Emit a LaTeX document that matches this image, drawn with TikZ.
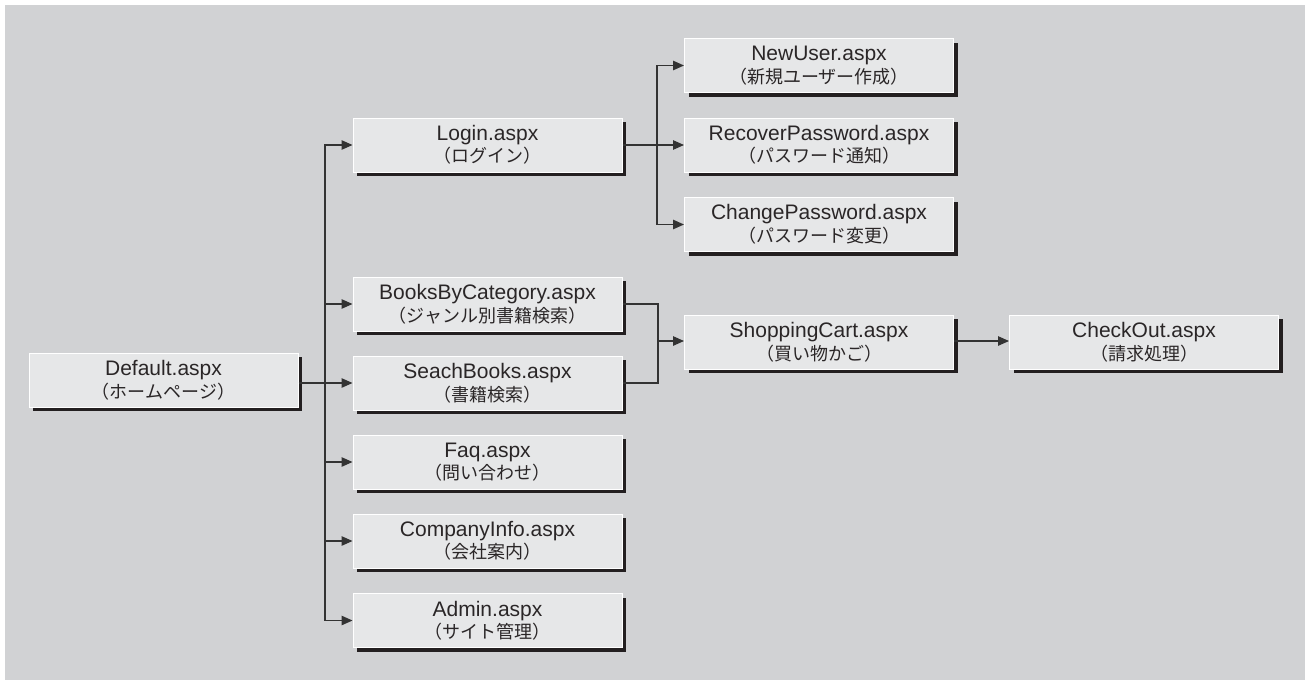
\documentclass[tikz,border=0pt]{standalone}
\usepackage{fontspec}
\setmainfont{Liberation Sans}
\newfontfamily\jpfont{Noto Sans CJK JP}
\usetikzlibrary{arrows.meta,shadows}
\definecolor{bgc}{HTML}{D1D2D4}
\definecolor{boxc}{HTML}{E6E7E8}
\definecolor{shc}{HTML}{231F20}
\definecolor{linec}{HTML}{333333}
\definecolor{txtc}{HTML}{2A2627}
\newcommand\jpl[1]{{\jpfont\fontsize{18}{22.5}\selectfont #1}}
\tikzset{
  page/.style={draw=white, line width=1pt, fill=boxc, minimum width=269pt, minimum height=54pt,
    inner sep=0pt, align=center, text=txtc, font=\fontsize{21}{22.5}\selectfont,
    drop shadow={shadow xshift=4pt, shadow yshift=-4pt, fill=shc, opacity=1, draw=none}},
  conn/.style={draw=linec, line width=1.2pt},
  arr/.style={conn, -{Triangle[length=11pt,width=9.5pt]}}
}
\begin{document}
\begin{tikzpicture}[x=1pt,y=-1pt]
\useasboundingbox (0,0) rectangle (1305,680);
\fill[bgc] (5,5) rectangle (1305,680);

\node[page] (def) at (163.5,380) {Default.aspx\\\jpl{（ホームページ）}};
\node[page] (login) at (487.5,145) {Login.aspx\\\jpl{（ログイン）}};
\node[page] (bbc) at (487.5,304) {BooksByCategory.aspx\\\jpl{（ジャンル別書籍検索）}};
\node[page] (sb) at (487.5,383) {SeachBooks.aspx\\\jpl{（書籍検索）}};
\node[page] (faq) at (487.5,462) {Faq.aspx\\\jpl{（問い合わせ）}};
\node[page] (ci) at (487.5,541) {CompanyInfo.aspx\\\jpl{（会社案内）}};
\node[page] (adm) at (487.5,620.5) {Admin.aspx\\\jpl{（サイト管理）}};
\node[page] (nu) at (819,65.5) {NewUser.aspx\\\jpl{（新規ユーザー作成）}};
\node[page] (rp) at (819,145) {RecoverPassword.aspx\\\jpl{（パスワード通知）}};
\node[page] (cp) at (819,224.5) {ChangePassword.aspx\\\jpl{（パスワード変更）}};
\node[page] (cart) at (819,342) {ShoppingCart.aspx\\\jpl{（買い物かご）}};
\node[page] (co) at (1144,342) {CheckOut.aspx\\\jpl{（請求処理）}};

\coordinate (tr) at (325,383);
\coordinate (lj) at (657,145);
\coordinate (mj) at (658,341);

\draw[conn] (def.east |- sb.west) -- (tr);
\draw[arr] (tr) -- (sb.west);
\draw[arr] (tr) |- (login.west);
\draw[arr] (tr) |- (bbc.west);
\draw[arr] (tr) |- (faq.west);
\draw[arr] (tr) |- (ci.west);
\draw[arr] (tr) |- (adm.west);

\draw[conn] (login.east) -- (lj);
\draw[arr] (lj) -- (rp.west);
\draw[arr] (lj) |- (nu.west);
\draw[arr] (lj) |- (cp.west);

\draw[conn] (bbc.east) -| (mj);
\draw[conn] (sb.east) -| (mj);
\draw[arr] (mj) -- (cart.west |- mj);
\draw[arr] (cart.east |- mj) -- (co.west |- mj);
\end{tikzpicture}
\end{document}
